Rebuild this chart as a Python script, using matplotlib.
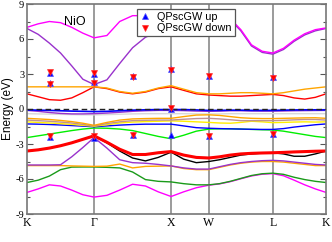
import matplotlib
matplotlib.use('Agg')
import matplotlib.pyplot as plt
from matplotlib.ticker import MultipleLocator

# k-path distances of sampled points
kdist = [0.000, 0.145, 0.290, 0.435, 0.580, 0.725, 0.870, 1.037, 1.203, 1.370,
         1.537, 1.703, 1.870, 2.033, 2.197, 2.360, 2.498, 2.637, 2.775, 2.913,
         3.052, 3.190, 3.328, 3.466, 3.604, 3.742, 3.880]
hs_pos = [0.0, 0.87, 1.87, 2.36, 3.19, 3.88]
hs_labels = ['K', 'Γ', 'X', 'W', 'L', 'K']

mag_hi = [7.0, 7.3, 7.5, 7.4, 7.0, 6.5, 6.1, 6.3, 7.5, 8.0, 8.0, 8.0, 8.0, 8.0, 8.0, 8.0,
          7.95, 7.75, 6.8, 5.5, 4.95, 4.8, 5.2, 5.9, 6.45, 6.8, 6.95]
pur_hi = [6.9, 6.4, 5.65, 4.8, 3.7, 2.55, 2.1, 2.5, 3.9, 5.25, 6.15, 6.6, 6.95, 7.4, 7.7, 7.85,
          7.85, 7.65, 6.7, 5.4, 4.85, 4.7, 5.1, 5.8, 6.35, 6.7, 6.9]
orange_hi = [1.9, 1.9, 1.9, 1.9, 1.9, 1.9, 1.9, 1.8, 1.5, 1.35, 1.5, 1.8, 2.0, 1.7, 1.4, 1.3,
             1.3, 1.35, 1.4, 1.4, 1.35, 1.3, 1.4, 1.55, 1.7, 1.8, 1.9]
red_hi = [1.3, 1.05, 0.8, 0.75, 0.95, 1.4, 1.9, 1.75, 1.45, 1.3, 1.45, 1.75, 1.9, 1.6, 1.3, 1.2,
          1.15, 1.1, 1.1, 1.15, 1.2, 1.25, 1.15, 0.95, 0.85, 1.0, 1.3]
blue_top = [-0.08, -0.1, -0.12, -0.15, -0.18, -0.2, -0.22, -0.2, -0.15, -0.1, -0.07, -0.05, -0.05,
            -0.05, -0.08, -0.12, -0.12, -0.1, -0.1, -0.12, -0.12, -0.12, -0.1, -0.08, -0.07, -0.07, -0.08]
pur_top = [-0.12, -0.2, -0.3, -0.38, -0.42, -0.42, -0.4, -0.35, -0.28, -0.2, -0.15, -0.12, -0.12,
           -0.14, -0.18, -0.2, -0.18, -0.15, -0.15, -0.17, -0.18, -0.18, -0.17, -0.15, -0.14, -0.13, -0.12]
gray_top = [-0.4, -0.42, -0.44, -0.46, -0.48, -0.5, -0.5, -0.48, -0.45, -0.42, -0.4, -0.4, -0.4,
            -0.4, -0.42, -0.42, -0.42, -0.4, -0.4, -0.4, -0.4, -0.4, -0.4, -0.4, -0.4, -0.4, -0.4]
orange_v = [-0.8, -0.85, -0.9, -0.98, -1.08, -1.22, -1.4, -1.15, -0.95, -0.85, -0.82, -0.8, -0.8,
            -0.65, -0.52, -0.5, -0.55, -0.65, -0.75, -0.8, -0.82, -0.82, -0.8, -0.78, -0.76, -0.75, -0.8]
tan_v = [-0.95, -1.0, -1.05, -1.12, -1.2, -1.32, -1.45, -1.25, -1.1, -1.0, -0.97, -0.95, -0.95,
         -0.88, -0.82, -0.8, -0.85, -0.92, -1.0, -1.0, -1.0, -1.0, -0.97, -0.93, -0.9, -0.9, -0.95]
yellow_v = [-1.1, -1.15, -1.2, -1.25, -1.32, -1.4, -1.48, -1.35, -1.2, -1.12, -1.08, -1.05, -1.02,
            -1.05, -1.1, -1.15, -1.2, -1.22, -1.15, -1.05, -1.1, -1.17, -1.15, -1.12, -1.1, -1.12, -1.1]
blue_v = [-1.28, -1.3, -1.33, -1.37, -1.42, -1.47, -1.52, -1.45, -1.38, -1.33, -1.3, -1.3, -1.3,
          -1.45, -1.6, -1.65, -1.68, -1.7, -1.72, -1.74, -1.75, -1.75, -1.68, -1.55, -1.45, -1.35, -1.28]
green_v = [-2.45, -2.3, -2.15, -2.0, -1.85, -1.72, -1.63, -1.65, -1.72, -1.85, -2.1, -2.35, -2.55,
           -2.25, -1.9, -1.72, -1.7, -1.7, -1.72, -1.75, -1.78, -1.8, -1.9, -2.05, -2.2, -2.35, -2.45]
red_lo = [-3.6, -3.5, -3.35, -3.15, -2.9, -2.6, -2.3, -2.85, -3.45, -3.9, -3.9, -3.75, -3.65,
          -3.95, -4.15, -4.2, -4.1, -3.95, -3.85, -3.8, -3.77, -3.75, -3.72, -3.68, -3.65, -3.62, -3.6]
black_lo = [-3.6, -3.5, -3.35, -3.15, -2.9, -2.6, -2.3, -2.9, -3.6, -4.2, -4.45, -4.15, -3.7,
            -4.3, -4.6, -4.5, -4.35, -4.15, -3.95, -3.85, -3.78, -3.75, -3.85, -4.05, -4.05, -3.85, -3.6]
pur_lo = [-4.8, -4.8, -4.8, -4.78, -4.1, -3.3, -2.45, -3.35, -4.35, -4.6, -4.65, -4.75, -4.88,
          -5.05, -5.15, -5.15, -4.95, -4.75, -4.6, -4.5, -4.43, -4.4, -4.45, -4.55, -4.65, -4.75, -4.8]
orange_lo = [-4.85, -4.85, -4.85, -4.85, -4.88, -4.9, -4.92, -4.9, -4.72, -5.05, -4.92, -4.9, -4.88,
             -5.1, -5.2, -5.2, -5.0, -4.8, -4.65, -4.55, -4.5, -4.5, -4.55, -4.65, -4.75, -4.85, -4.85]
green_lo = [-6.3, -6.1, -5.75, -5.2, -4.98, -4.97, -4.97, -5.0, -5.05, -5.4, -6.05, -6.2, -6.25,
            -6.4, -6.5, -6.5, -6.4, -6.2, -5.95, -5.7, -5.55, -5.5, -5.6, -5.85, -6.05, -6.2, -6.3]
mag_lo = [-7.15, -6.85, -6.5, -6.6, -6.95, -7.35, -7.55, -7.4, -6.95, -6.45, -6.6, -7.1, -7.5,
          -7.1, -6.75, -6.53, -6.42, -6.23, -5.98, -5.74, -5.59, -5.54, -5.72, -6.1, -6.5, -6.85, -7.15]

# QPscGW points
qp_up_k = [0.30, 0.30, 0.30, 0.87, 0.87, 0.87, 1.37, 1.37, 1.87, 1.87, 1.87, 2.36, 2.36, 3.19, 3.19]
qp_up_e = [3.1, 2.2, -2.4, 3.0, 2.3, -2.5, 2.8, -2.2, 3.4, 0.0, -2.25, 2.8, -2.35, 2.75, -2.15]
qp_dn_k = [0.30, 0.30, 0.30, 0.87, 0.87, 0.87, 1.37, 1.37, 1.87, 1.87, 2.36, 2.36, 3.19, 3.19]
qp_dn_e = [3.15, 2.15, -2.35, 3.05, 2.25, -2.3, 2.75, -2.2, 3.35, 0.05, 2.8, -2.35, 2.7, -2.1]

yticks = [-9, -6, -3, 0, 3, 6, 9]

fig = plt.figure(figsize=(3.32, 2.42), dpi=100)
ax = fig.add_axes([27/332, 1 - 214/242, 299/332, 210/242])

for xv in hs_pos[1:-1]:
    ax.axvline(xv, color='#8a8a8a', lw=1.2, zorder=0)

styles = [
    (gray_top, '#d8d8d8', 1.0),
    (mag_lo, '#ff00ff', 1.0),
    (green_lo, '#1a9a1a', 1.0),
    (orange_lo, '#ffa500', 1.0),
    (pur_lo, '#9932cc', 1.0),
    (black_lo, '#000000', 1.0),
    (red_lo, '#ff0000', 2.2),
    (green_v, '#00ee00', 1.0),
    (blue_v, '#0000ff', 1.0),
    (yellow_v, '#ffee00', 1.0),
    (tan_v, '#c09090', 1.0),
    (orange_v, '#ffa500', 1.0),
    (pur_top, '#9932cc', 1.0),
    (blue_top, '#0000ff', 1.2),
    (red_hi, '#ff0000', 1.0),
    (orange_hi, '#ffa500', 1.0),
    (pur_hi, '#9932cc', 1.0),
    (mag_hi, '#ff00ff', 1.0),
]
for band, color, lw in styles:
    ax.plot(kdist, band, color=color, lw=lw, solid_joinstyle='round', zorder=2)

ax.axhline(0, color='#222222', ls=(0, (4, 2.5)), lw=1.0, zorder=3)

ax.plot(qp_up_k, qp_up_e, ls='none', marker='^', color='#0000ff', ms=4.5, mew=0.5,
        mec='#5555ff', zorder=4, label='QPscGW up')
ax.plot(qp_dn_k, qp_dn_e, ls='none', marker='v', color='#ff0000', ms=4.5, mew=0.5,
        mec='#ff3333', zorder=5, label='QPscGW down')

ax.set_xlim(hs_pos[0], hs_pos[-1])
ax.set_ylim(-9, 9)
ax.set_xticks(hs_pos)
ax.set_xticklabels(hs_labels, family='Liberation Serif', fontsize=8.5)
ax.set_yticks(yticks)
ax.set_yticklabels([str(t) for t in yticks], family='Liberation Serif', fontsize=7.5)
ax.yaxis.set_minor_locator(MultipleLocator(1.5))
ax.tick_params(axis='y', which='both', direction='in', left=True, right=True, pad=2,
               color='#555555')
ax.tick_params(axis='y', which='major', length=4, width=0.8)
ax.tick_params(axis='y', which='minor', length=2.5, width=0.8)
ax.tick_params(axis='x', length=0, pad=2)
for sp in ax.spines.values():
    sp.set_color('#777777')
    sp.set_linewidth(1.2)

ax.set_ylabel('Energy (eV)', family='Liberation Sans', fontsize=8.5, labelpad=0)
ax.yaxis.set_label_coords(-0.045, 0.5)
ax.text(0.16, 0.915, 'NiO', transform=ax.transAxes, family='Liberation Sans', fontsize=9,
        ha='center', va='center')

leg = ax.legend(loc='upper left', bbox_to_anchor=(0.368, 0.976), prop={'family': 'Liberation Sans', 'size': 7.8},
                frameon=True, fancybox=False, edgecolor='#555555', framealpha=1,
                handlelength=1.0, handletextpad=0.6, labelspacing=0.12, borderpad=0.28,
                borderaxespad=0, numpoints=1)
leg.get_frame().set_linewidth(0.9)
leg.set_zorder(10)

fig.savefig('out.png', dpi=100)
